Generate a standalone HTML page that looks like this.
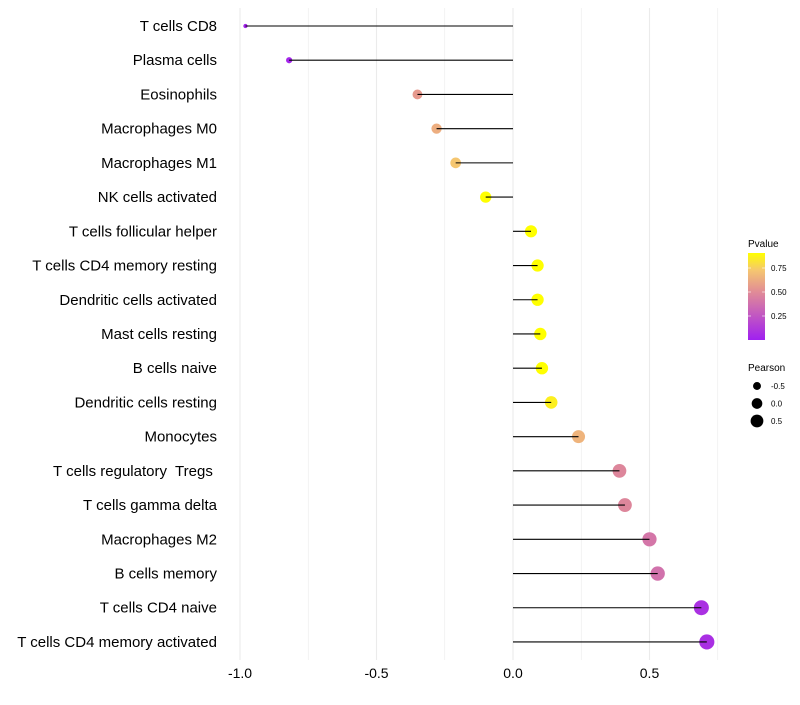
<!DOCTYPE html>
<html><head><meta charset="utf-8"><style>
body{margin:0;background:#fff;width:800px;height:700px;overflow:hidden;font-family:"Liberation Sans",sans-serif}
text{white-space:pre}
</style></head><body>
<svg id="chart" width="800" height="700" xmlns="http://www.w3.org/2000/svg"></svg>
<script>
const categories=["T cells CD8","Plasma cells","Eosinophils","Macrophages M0","Macrophages M1","NK cells activated","T cells follicular helper","T cells CD4 memory resting","Dendritic cells activated","Mast cells resting","B cells naive","Dendritic cells resting","Monocytes","T cells regulatory  Tregs ","T cells gamma delta","Macrophages M2","B cells memory","T cells CD4 naive","T cells CD4 memory activated"];
const pearson=[-0.98,-0.82,-0.35,-0.28,-0.21,-0.10,0.066,0.09,0.09,0.10,0.106,0.14,0.24,0.39,0.41,0.50,0.53,0.69,0.71];
const pvalue=[0.02,0.03,0.55,0.63,0.72,0.9,0.92,0.9,0.9,0.9,0.9,0.85,0.65,0.47,0.47,0.4,0.38,0.08,0.07];
const xTicks=[-1.0,-0.5,0.0,0.5];
const xTickLabels=["-1.0","-0.5","0.0","0.5"];
const legendP=[0.75,0.50,0.25];
const legendR=[-0.5,0.0,0.5];
const NS="http://www.w3.org/2000/svg";
const svg=document.getElementById('chart');
const x=v=>513+v*273;
const y=i=>26+i*34.22;
const rad=v=>Math.sqrt(4+31*(v+1));
const stops=[[0,[160,32,240]],[0.5,[225,140,150]],[0.72,[245,198,112]],[0.9,[255,255,0]]];
function col(p){p=Math.max(0,Math.min(0.9,p));for(let k=0;k<stops.length-1;k++){const a=stops[k],b=stops[k+1];if(p<=b[0]){const t=(p-a[0])/(b[0]-a[0]);return 'rgb('+a[1].map((c,j)=>Math.round(c+(b[1][j]-c)*t)).join(',')+')';}}return 'rgb(255,255,0)';}
function el(t,a,txt){const e=document.createElementNS(NS,t);for(const k in a)e.setAttribute(k,a[k]);if(txt!==undefined)e.textContent=txt;svg.appendChild(e);return e;}
for(let v=-1;v<=0.75;v+=0.25){
 const g=el('line',{x1:x(v),x2:x(v),y1:8,y2:660,stroke:'#ebebeb','stroke-width':Math.abs(v*2%1)<1e-6?1.1:0.6});
 
 
}
xTicks.forEach((v,i)=>{
 const t=el('text',{x:x(v),y:678,'text-anchor':'middle','font-size':14,fill:'#000'},xTickLabels[i]);
 
 
});
categories.forEach((c,i)=>{
 const t=el('text',{x:217,y:y(i)+5,'text-anchor':'end','font-size':15,fill:'#000'},c);
 
 
 const pt=el('circle',{cx:x(pearson[i]),cy:y(i),r:rad(pearson[i]),fill:col(pvalue[i])});
 
 
 const s=el('line',{x1:x(0),x2:x(pearson[i]),y1:y(i),y2:y(i),stroke:'#000','stroke-width':1.1});
 
 
});
const lt=el('text',{x:748,y:247,'font-size':10},"Pvalue");


const defs=el('defs',{});
const lg=document.createElementNS(NS,'linearGradient');lg.setAttribute('id','pg');lg.setAttribute('x1','0');lg.setAttribute('y1','1');lg.setAttribute('x2','0');lg.setAttribute('y2','0');
[[0,'rgb(160,32,240)'],[0.5/0.9,'rgb(225,140,150)'],[0.72/0.9,'rgb(245,198,112)'],[1,'rgb(255,255,0)']].forEach(s=>{const st=document.createElementNS(NS,'stop');st.setAttribute('offset',s[0]);st.setAttribute('stop-color',s[1]);lg.appendChild(st);});
defs.appendChild(lg);
const cb=el('rect',{x:748,y:253,width:17,height:87,fill:'url(#pg)'});


legendP.forEach(p=>{
 const yy=340-p*96;
 el('line',{x1:748,x2:751,y1:yy,y2:yy,stroke:'#fff','stroke-width':0.6});
 el('line',{x1:762,x2:765,y1:yy,y2:yy,stroke:'#fff','stroke-width':0.6});
 const t=el('text',{x:771,y:yy+3,'font-size':8},p.toFixed(2));
 
 
});
const pt2=el('text',{x:748,y:371,'font-size':10},"Pearson");


legendR.forEach((v,i)=>{
 const yy=386+i*17.5;
 const c=el('circle',{cx:757,cy:yy,r:rad(v)*0.9,fill:'#000'});
 
 
 const t=el('text',{x:771,y:yy+3,'font-size':8},v.toFixed(1));
 
 
});
</script>
</body></html>
